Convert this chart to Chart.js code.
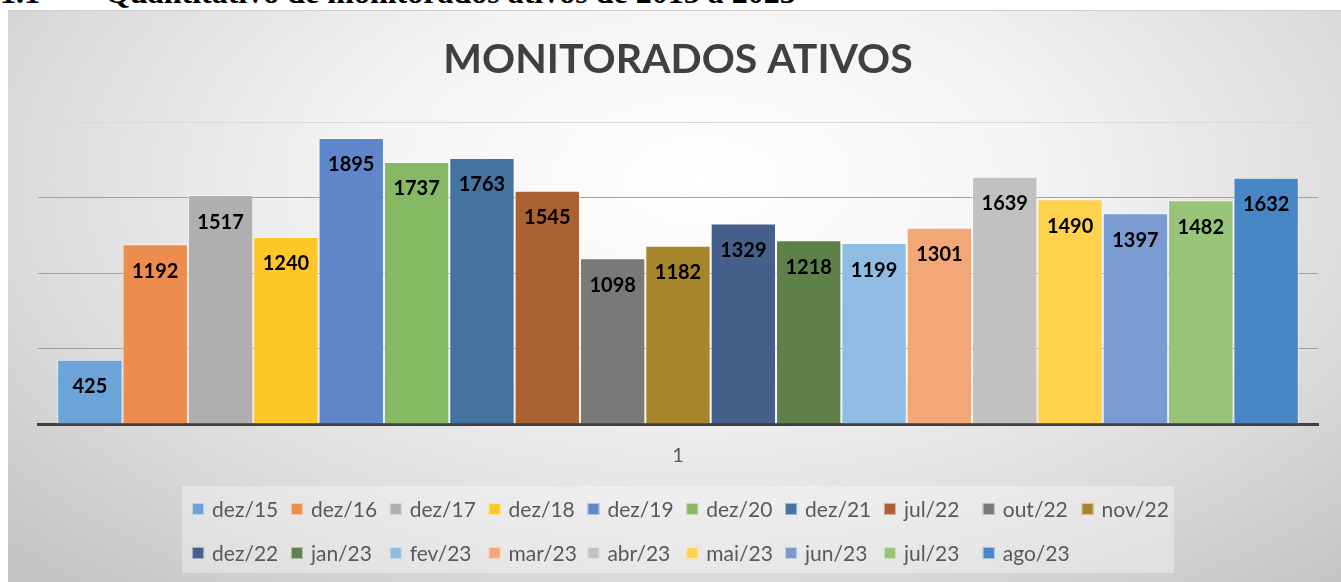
<!DOCTYPE html>
<html><head><meta charset="utf-8">
<script src="https://cdn.jsdelivr.net/npm/chart.js@4.4.0/dist/chart.umd.min.js"></script>
<style>
html,body{margin:0;padding:0;background:#fff;width:1341px;height:582px;overflow:hidden;}
.hdr{position:absolute;top:-24px;font:bold 32px "Liberation Serif","Times New Roman",serif;line-height:1;white-space:pre;color:#000;z-index:0;}
#box{position:absolute;left:8px;top:10px;width:1333px;height:572px;z-index:1;
 background:radial-gradient(ellipse 72% 95% at 52% 30%, #ffffff 0%, #f4f4f4 35%, #dcdcdc 70%, #c4c4c4 100%);
 box-shadow: inset 0 1px 0 #cfcfcf;}
canvas{display:block;}
</style>
</head><body>
<div class="hdr" style="left:0">1.1</div>
<div class="hdr" style="left:105px">Quantitativo de monitorados ativos de 2015 a 2023</div>
<div id="box"><canvas id="c" width="1333" height="572"></canvas></div>
<script>
const chartTitle = 'MONITORADOS ATIVOS';
const categories = ['1'];
const seriesLabels = ['dez/15','dez/16','dez/17','dez/18','dez/19','dez/20','dez/21','jul/22','out/22','nov/22',
  'dez/22','jan/23','fev/23','mar/23','abr/23','mai/23','jun/23','jul/23','ago/23'];
const seriesValues = [425,1192,1517,1240,1895,1737,1763,1545,1098,1182,1329,1218,1199,1301,1639,1490,1397,1482,1632];
const seriesColors = ['#6CA4D8','#EC8C4E','#AFAFAF','#FEC727','#5F86CA','#85B964','#44739F','#AA6232','#797979','#A7862B',
  '#45608A','#5E814A','#8EBCE3','#F3A777','#C1C1C1','#FFD24E','#7A9BD2','#98C479','#4787C5'];
const yMin = 0, yMax = 2000, yStep = 500;

const datasets = seriesLabels.map((lab, i) => ({
  label: lab,
  data: [seriesValues[i]],
  backgroundColor: seriesColors[i],
  borderColor: 'rgba(255,255,255,0.55)',
  borderWidth: 1,
  categoryPercentage: 0.97,
  barPercentage: 1.0
}));

// Excel-style legend: equal-width columns, rows left-aligned, block centred.
const gridLegend = {
  id: 'gridLegend',
  afterDraw(chart) {
    const ctx = chart.ctx;
    ctx.save();
    ctx.font = '21px Lato';
    const box = 12, gap = 8, pad = 10.5, maxW = 1060;
    const items = chart.data.datasets.map(ds => ({ text: ds.label, color: ds.backgroundColor,
      w: box + gap + ctx.measureText(ds.label).width }));
    const colW = Math.max(...items.map(it => it.w)) + pad;
    const cols = Math.max(1, Math.min(10, Math.floor((maxW + pad) / colW)));
    const rows = Math.ceil(items.length / cols);
    const blockW = Math.min(cols, items.length) * colW - pad;
    const cx = (chart.chartArea.left + chart.chartArea.right) / 2 + 3;
    const x0 = cx - blockW / 2;
    const y0 = chart.chartArea.bottom + 85, rowH = 44;
    // light backing panel
    ctx.fillStyle = 'rgba(255,255,255,0.35)';
    ctx.fillRect(x0 - 10, y0 - 23, blockW + 14, (rows - 1) * rowH + 43);
    ctx.textAlign = 'left';
    ctx.textBaseline = 'middle';
    items.forEach((it, i) => {
      const r = Math.floor(i / cols), c = i % cols;
      const x = x0 + c * colW, y = y0 + r * rowH;
      ctx.fillStyle = it.color;
      ctx.fillRect(x, y - box / 2, box, box);
      ctx.strokeStyle = 'rgba(255,255,255,0.5)';
      ctx.lineWidth = 1;
      ctx.strokeRect(x + 0.5, y - box / 2 + 0.5, box - 1, box - 1);
      ctx.fillStyle = '#595959';
      ctx.fillText(it.text, x + box + gap, y + 1);
    });
    ctx.restore();
  }
};

const valueLabels = {
  id: 'valueLabels',
  afterDatasetsDraw(chart) {
    const ctx = chart.ctx;
    ctx.save();
    ctx.font = 'bold 20px Lato';
    ctx.fillStyle = '#000';
    ctx.textAlign = 'center';
    ctx.textBaseline = 'middle';
    chart.data.datasets.forEach((ds, i) => {
      const meta = chart.getDatasetMeta(i);
      meta.data.forEach((el, j) => {
        ctx.fillText(String(ds.data[j]), el.x, el.y + 27);
      });
    });
    ctx.restore();
  }
};

new Chart(document.getElementById('c'), {
  type: 'bar',
  data: { labels: categories, datasets },
  plugins: [gridLegend, valueLabels],
  options: {
    responsive: false,
    animation: false,
    layout: { padding: { top: 10, left: 30, right: 23, bottom: 94 } },
    plugins: {
      title: {
        display: true, text: chartTitle, color: '#404040',
        font: { family: 'Lato', size: 41, weight: 'bold', lineHeight: 1.2 },
        padding: { top: 15, bottom: 38 }
      },
      legend: { display: false },
      tooltip: { enabled: false }
    },
    scales: {
      x: {
        grid: { display: false, drawTicks: false },
        border: { display: true, color: '#404040', width: 3 },
        ticks: { color: '#595959', padding: 7, font: { family: 'Lato', size: 20, lineHeight: 2.5 } }
      },
      y: {
        display: true, min: yMin, max: yMax,
        ticks: { display: false, stepSize: yStep },
        border: { display: false },
        grid: { drawTicks: false, color: ctx => ctx.tick && ctx.tick.value === yMax ? '#d9d9d9' : '#a0a0a0', lineWidth: 1 }
      }
    }
  }
});
</script>
</body></html>
